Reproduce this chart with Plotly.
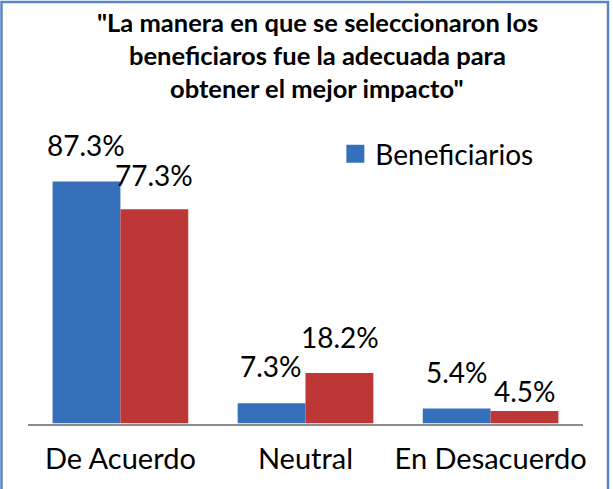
import plotly.graph_objects as go

categories = ["De Acuerdo", "Neutral", "En Desacuerdo"]
beneficiarios = [87.3, 7.3, 5.4]
otros = [77.3, 18.2, 4.5]
labels_benef = ["87.3%", "7.3%", "5.4%"]
labels_otros = ["77.3%", "18.2%", "4.5%"]
title_lines = ['"La manera en que se seleccionaron los',
               'beneficiaros fue la adecuada para',
               'obtener el mejor impacto"']

# label lift above bar top (px), styling only
lift_benef = [17.7, 18.7, 17.3]
lift_otros = [15.3, 17.3, 1.4]

BLUE = "#3670bb"
RED = "#bd3736"
FONT = "Lato, 'DejaVu Sans', sans-serif"

W, H = 613, 489
fig = go.Figure()
fig.add_trace(go.Bar(x=categories, y=beneficiarios, name="Beneficiarios",
                     marker=dict(color=BLUE, line=dict(width=0)), showlegend=False))
fig.add_trace(go.Bar(x=categories, y=otros, name="Otros",
                     marker=dict(color=RED, line=dict(width=0)), showlegend=False))
# legend entry
fig.add_trace(go.Scatter(x=[None], y=[None], mode="markers", name="Beneficiarios",
                         marker=dict(symbol="square", size=16, color=BLUE,
                                     line=dict(color=BLUE, width=2)),
                         showlegend=True))

half = 136.3 / 4  # half of one bar width in px
for c, v, t, s in zip(categories, beneficiarios, labels_benef, lift_benef):
    fig.add_annotation(x=c, y=v, xref="x", yref="y", text=t, showarrow=False,
                       yanchor="bottom", xshift=-half, yshift=s,
                       font=dict(family=FONT, size=28, color="#000"))
for c, v, t, s in zip(categories, otros, labels_otros, lift_otros):
    fig.add_annotation(x=c, y=v, xref="x", yref="y", text=t, showarrow=False,
                       yanchor="bottom", xshift=half, yshift=s,
                       font=dict(family=FONT, size=28, color="#000"))

# title, one annotation per line
baselines = [32.3, 66.0, 99.0]
for line, b in zip(title_lines, baselines):
    fig.add_annotation(x=319 / W, y=1 - (b + 6.4) / H, xref="paper", yref="paper",
                       text=line, showarrow=False, xanchor="center", yanchor="bottom",
                       font=dict(family=FONT, size=25.5, color="#000", weight="bold"))

fig.add_shape(type="rect", xref="paper", yref="paper",
              x0=1.5 / W, x1=611 / W, y0=-0.05, y1=(H - 2) / H,
              line=dict(color="#5a86c5", width=2.5), layer="above")

fig.update_layout(
    width=W, height=H,
    margin=dict(l=0, r=0, t=0, b=0),
    paper_bgcolor="white", plot_bgcolor="white",
    barmode="group", bargap=0.267, bargroupgap=0,
    legend=dict(x=337 / W, xanchor="left", y=1 - 129 / H, yanchor="top",
                bgcolor="rgba(0,0,0,0)",
                font=dict(family=FONT, size=28, color="#000")),
    xaxis=dict(domain=[28 / W, 586 / W], range=[-0.5, 2.5], showgrid=False,
               showline=True, linecolor="#8c8c8c", linewidth=2, ticks="",
               ticklabelstandoff=9,
               tickfont=dict(family=FONT, size=29, color="#000"), zeroline=False),
    yaxis=dict(domain=[(H - 423.5) / H, (H - 146.3) / H], range=[0, 100],
               visible=False, showgrid=False, zeroline=False),
    showlegend=True,
)

fig.write_html("out.html", config={"displayModeBar": False},
               post_script="document.body.style.margin='0px';")
